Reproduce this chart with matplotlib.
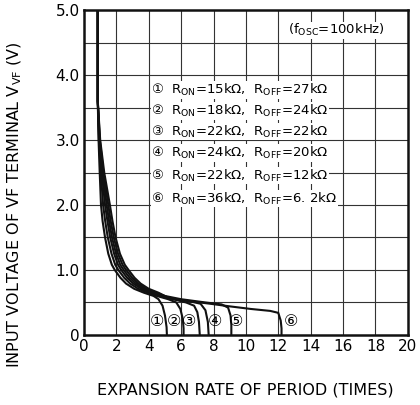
import matplotlib
matplotlib.use("Agg")
import matplotlib.pyplot as plt

plt.rcParams['font.family'] = ['DejaVu Sans', 'Noto Sans CJK JP']
plt.rcParams['mathtext.default'] = 'regular'

# curves: (expansion rate, voltage)
curve1_x = [0.85, 0.85, 0.9, 0.97, 1.05, 1.15, 1.3, 1.5, 1.72, 1.9, 2.25, 2.6, 3.1, 3.7, 4.3, 4.6, 4.85, 5.0, 5.1, 5.12]
curve1_y = [5.0, 3.6, 3.0, 2.5, 2.0, 1.75, 1.5, 1.25, 1.08, 1.0, 0.88, 0.79, 0.71, 0.65, 0.6, 0.55, 0.45, 0.3, 0.12, 0.0]
curve2_x = [0.85, 0.85, 0.92, 1.04, 1.18, 1.31, 1.47, 1.7, 1.93, 2.12, 2.48, 2.85, 3.35, 3.95, 4.5, 5.2, 5.7, 5.95, 6.1, 6.15, 6.15]
curve2_y = [5.0, 3.6, 3.0, 2.5, 2.0, 1.75, 1.5, 1.25, 1.08, 1.0, 0.88, 0.79, 0.71, 0.65, 0.6, 0.55, 0.5, 0.4, 0.25, 0.1, 0.0]
curve3_x = [0.85, 0.85, 0.94, 1.1, 1.3, 1.45, 1.62, 1.86, 2.1, 2.3, 2.66, 3.05, 3.55, 4.15, 4.65, 5.5, 6.3, 6.8, 7.0, 7.1, 7.15]
curve3_y = [5.0, 3.6, 3.0, 2.5, 2.0, 1.75, 1.5, 1.25, 1.08, 1.0, 0.88, 0.79, 0.71, 0.65, 0.6, 0.55, 0.5, 0.45, 0.35, 0.2, 0.0]
curve4_x = [0.85, 0.85, 0.96, 1.15, 1.4, 1.55, 1.73, 1.98, 2.24, 2.45, 2.82, 3.2, 3.7, 4.3, 4.85, 5.7, 6.5, 7.2, 7.5, 7.65, 7.7]
curve4_y = [5.0, 3.6, 3.0, 2.5, 2.0, 1.75, 1.5, 1.25, 1.08, 1.0, 0.88, 0.79, 0.71, 0.65, 0.6, 0.55, 0.52, 0.48, 0.38, 0.2, 0.0]
curve5_x = [0.85, 0.85, 0.98, 1.2, 1.5, 1.65, 1.84, 2.1, 2.38, 2.6, 2.97, 3.35, 3.85, 4.45, 5.0, 6.0, 7.5, 8.5, 8.9, 9.05, 9.1, 9.1]
curve5_y = [5.0, 3.6, 3.0, 2.5, 2.0, 1.75, 1.5, 1.25, 1.08, 1.0, 0.88, 0.79, 0.71, 0.65, 0.6, 0.55, 0.5, 0.47, 0.42, 0.3, 0.15, 0.0]
curve6_x = [0.85, 0.85, 1.0, 1.25, 1.6, 1.76, 1.95, 2.22, 2.52, 2.75, 3.12, 3.5, 4.0, 4.6, 5.3, 6.5, 7.8, 9.0, 10.3, 11.5, 12.0, 12.15, 12.2, 12.2]
curve6_y = [5.0, 3.6, 3.0, 2.5, 2.0, 1.75, 1.5, 1.25, 1.08, 1.0, 0.88, 0.79, 0.71, 0.65, 0.56, 0.52, 0.48, 0.44, 0.4, 0.37, 0.34, 0.22, 0.1, 0.0]

curves = [(curve1_x, curve1_y), (curve2_x, curve2_y), (curve3_x, curve3_y),
          (curve4_x, curve4_y), (curve5_x, curve5_y), (curve6_x, curve6_y)]

marks = ['①', '②', '③', '④', '⑤', '⑥']
mark_x = [4.5, 5.55, 6.5, 8.1, 9.4, 12.8]

legend_lines = [
    '①  R$_{ON}$=15kΩ,  R$_{OFF}$=27kΩ',
    '②  R$_{ON}$=18kΩ,  R$_{OFF}$=24kΩ',
    '③  R$_{ON}$=22kΩ,  R$_{OFF}$=22kΩ',
    '④  R$_{ON}$=24kΩ,  R$_{OFF}$=20kΩ',
    '⑤  R$_{ON}$=22kΩ,  R$_{OFF}$=12kΩ',
    '⑥  R$_{ON}$=36kΩ,  R$_{OFF}$=6. 2kΩ',
]
legend_y = [3.77, 3.45, 3.13, 2.8, 2.45, 2.1]

x_ticks = list(range(0, 21, 2))
y_ticks = [0, 1, 2, 3, 4, 5]
y_labels = ['0', '1.0', '2.0', '3.0', '4.0', '5.0']

fig = plt.figure(figsize=(4.2, 4.05), dpi=100)
ax = fig.add_axes([0.2, 0.173, 0.771, 0.802])

ax.set_xlim(0, 20)
ax.set_ylim(0, 5)

# grid every 2 in x, every 0.5 in y
for gx in range(2, 20, 2):
    ax.axvline(gx, color='#333333', lw=0.8, zorder=1)
for k in range(1, 10):
    ax.axhline(k * 0.5, color='#333333', lw=0.8, zorder=1)

for cx, cy in curves:
    ax.plot(cx, cy, color='#111111', lw=1.5, zorder=3, solid_joinstyle='round')

for m, mx in zip(marks, mark_x):
    ax.text(mx, 0.2, m, ha='center', va='center', fontsize=11.5, zorder=4)

for t, ty in zip(legend_lines, legend_y):
    ax.text(4.15, ty, t, ha='left', va='center', fontsize=9.5, zorder=4,
            bbox=dict(facecolor='white', edgecolor='none', pad=0.5))

ax.text(15.6, 4.69, '(f$_{OSC}$=100kHz)', ha='center', va='center', fontsize=9.5,
        zorder=4, bbox=dict(facecolor='white', edgecolor='none', pad=0.5))

ax.set_xticks(x_ticks)
ax.set_xticklabels([str(v) for v in x_ticks], fontsize=11)
ax.set_yticks(y_ticks)
ax.set_yticklabels(y_labels, fontsize=11)
ax.tick_params(length=0, pad=3)

for s in ax.spines.values():
    s.set_linewidth(1.8)
    s.set_color('#111111')

fig.text(0.585, 0.037, 'EXPANSION RATE OF PERIOD (TIMES)', ha='center', va='center', fontsize=11.5)
fig.text(0.035, 0.496, 'INPUT VOLTAGE OF VF TERMINAL V$_{VF}$ (V)', ha='center', va='center',
         rotation=90, fontsize=11.5)

fig.savefig('out.png', dpi=100)
